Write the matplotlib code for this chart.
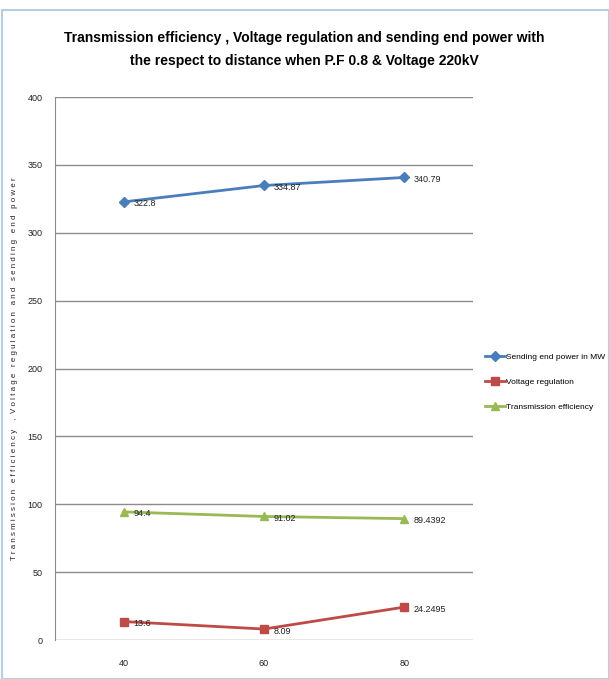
import matplotlib.pyplot as plt
from matplotlib.patches import Rectangle

distance = ["40", "60", "80"]
sending_power = [322.8, 334.87, 340.79]
voltage_reg = [13.6, 8.09, 24.2495]
trans_eff = [94.4, 91.02, 89.4392]
power_labels = ["322.8", "334.87", "340.79"]
reg_labels = ["13.6", "8.09", "24.2495"]
eff_labels = ["94.4", "91.02", "89.4392"]

small = ["Liberation Sans", "DejaVu Sans"]

fig = plt.figure(figsize=(6.09, 6.79), dpi=100)
fig.patches.append(Rectangle((0.004, 0.0), 0.996, 0.985, transform=fig.transFigure,
                             fill=False, edgecolor="#b8cde0", linewidth=1.5))
ax = fig.add_axes([0.0903, 0.0574, 0.6864, 0.7996])

x = list(range(len(distance)))
series = [
    (sending_power, power_labels, "Sending end power in MW", "#4a7ebb", "D", 5),
    (voltage_reg, reg_labels, "Voltage regulation", "#be4b48", "s", 6),
    (trans_eff, eff_labels, "Transmission efficiency", "#98b954", "^", 6),
]
for vals, labels, name, color, marker, ms in series:
    ax.plot(x, vals, color=color, marker=marker, markersize=ms, linewidth=2, label=name)
    for xi, v, lab in zip(x, vals, labels):
        ax.annotate(lab, (xi, v), xytext=(7, -1.5), textcoords="offset points",
                    fontsize=6.5, va="center", ha="left", color="#222222", family=small)

ax.set_xlim(-0.49, 2.49)
ax.set_ylim(0, 400)
ax.set_yticks(range(0, 401, 50))
ax.set_xticks(x)
ax.set_xticklabels(distance)
ax.yaxis.grid(True, color="#8c8c8c", linewidth=1)
ax.set_axisbelow(True)
for side in ["top", "right", "bottom"]:
    ax.spines[side].set_visible(False)
ax.spines["left"].set_color("#8c8c8c")
ax.tick_params(axis="both", length=0, labelsize=6.5, colors="#222222")
ax.tick_params(axis="x", pad=14)
ax.tick_params(axis="y", pad=9)
for lbl in ax.get_xticklabels() + ax.get_yticklabels():
    lbl.set_family(small)

ax.set_ylabel("T r a n s m i s s i o n   e f f i c i e n c y    ,  V o l t a g e   r e g u l a t i o n"
              "   a n d   s e n d i n g   e n d   p o w e r",
              fontsize=5.7, color="#222222", family=small)
ax.yaxis.set_label_coords(-0.088, 0.5)

fig.text(0.5, 0.927,
         "Transmission efficiency , Voltage regulation and sending end power with\n"
         "the respect to distance when P.F 0.8 & Voltage 220kV",
         ha="center", va="center", fontsize=10, fontweight="bold",
         family=small, linespacing=1.85)

ax.legend(loc="center left", bbox_to_anchor=(1.0, 0.475), frameon=False,
          handlelength=2.4, handletextpad=0.2, labelspacing=2.1,
          borderaxespad=1.0, prop={"family": small, "size": 6})

fig.savefig("out.png", dpi=100)
